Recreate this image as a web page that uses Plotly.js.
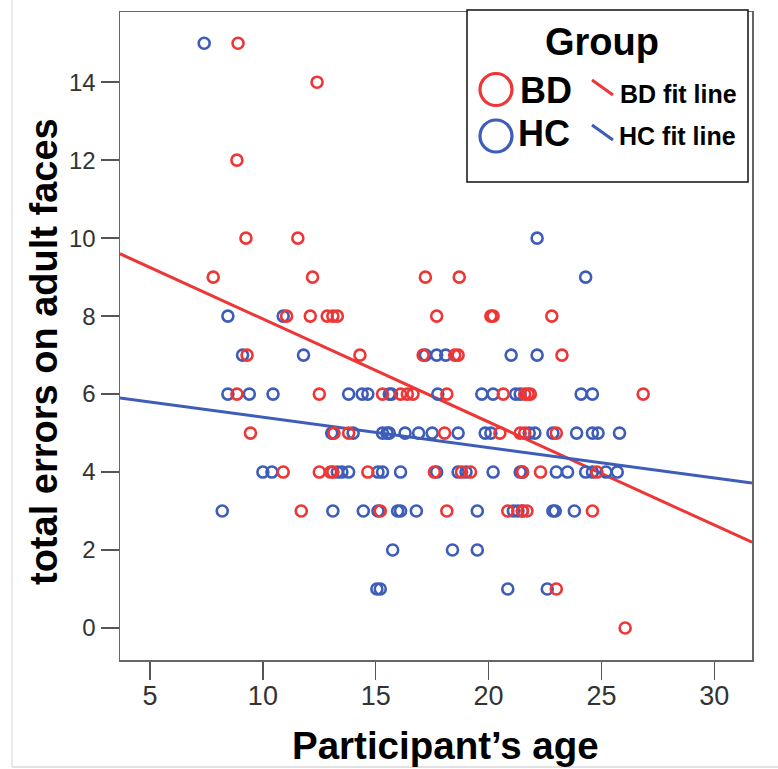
<!DOCTYPE html>
<html><head><meta charset="utf-8">
<script src="https://cdn.plot.ly/plotly-3.0.1.min.js"></script>
<style>body{margin:0;background:#fff}#chart{width:778px;height:769px}</style>
</head><body><div id="chart"></div>
<script>
// BD group (red)
const bdAge = [8.9, 12.4, 8.85, 9.25, 11.55, 7.8, 12.2, 17.2, 18.7,
  11.05, 12.1, 12.85, 13.1, 13.3, 17.7, 20.1, 20.2, 22.8,
  9.3, 14.3, 17.1, 18.5, 18.65, 23.25,
  8.85, 12.5, 15.3, 16.1, 16.4, 16.65, 18.15, 20.65, 21.6, 21.75, 21.85, 26.85,
  9.45, 13.15, 13.8, 18.05, 20.5, 21.6, 21.4, 23.0,
  10.9, 12.5, 13.1, 13.0, 14.65, 17.6, 18.8, 19.2, 21.5, 22.3, 24.8,
  11.7, 15.2, 18.15, 20.85, 21.5, 21.7, 24.6,
  23.0, 26.05];
const bdErr = [15, 14, 12, 10, 10, 9, 9, 9, 9,
  8, 8, 8, 8, 8, 8, 8, 8, 8,
  7, 7, 7, 7, 7, 7,
  6, 6, 6, 6, 6, 6, 6, 6, 6, 6, 6, 6,
  5, 5, 5, 5, 5, 5, 5, 5,
  4, 4, 4, 4, 4, 4, 4, 4, 4, 4, 4,
  3, 3, 3, 3, 3, 3, 3,
  1, 0];
// HC group (blue)
const hcAge = [7.4, 22.15, 24.3, 8.45, 10.9,
  9.1, 11.8, 17.2, 17.7, 18.1, 21.0, 22.15,
  8.45, 9.4, 10.45, 13.8, 14.4, 14.65, 15.6, 15.7, 17.75, 19.7, 20.2, 21.2, 21.4, 24.1, 24.6,
  13.05, 13.1, 14.0, 15.3, 15.5, 15.6, 16.3, 16.9, 17.5, 18.65, 19.85, 20.1, 21.8, 22.05, 22.85, 23.9, 24.6, 24.85, 25.8,
  10.0, 10.4, 13.3, 13.5, 13.8, 15.1, 15.3, 16.1, 17.7, 18.65, 19.0, 20.2, 21.4, 21.5, 23.0, 23.5, 24.3, 24.6, 25.2, 25.7,
  8.2, 13.1, 14.45, 15.1, 15.97, 16.1, 16.8, 19.5, 21.1, 21.3, 21.5, 22.85, 22.95, 23.8,
  15.75, 18.4, 19.5,
  15.05, 15.2, 20.85, 22.6];
const hcErr = [15, 10, 9, 8, 8,
  7, 7, 7, 7, 7, 7, 7,
  6, 6, 6, 6, 6, 6, 6, 6, 6, 6, 6, 6, 6, 6, 6,
  5, 5, 5, 5, 5, 5, 5, 5, 5, 5, 5, 5, 5, 5, 5, 5, 5, 5, 5,
  4, 4, 4, 4, 4, 4, 4, 4, 4, 4, 4, 4, 4, 4, 4, 4, 4, 4, 4, 4,
  3, 3, 3, 3, 3, 3, 3, 3, 3, 3, 3, 3, 3, 3,
  2, 2, 2,
  1, 1, 1, 1];
// Fit lines (endpoints)
const fitX = [3.67, 31.67];
const bdFitY = [9.6, 2.2];
const hcFitY = [5.9, 3.72];
const xTicks = [5, 10, 15, 20, 25, 30];
const yTicks = [0, 2, 4, 6, 8, 10, 12, 14];

const RED = '#ee3636', BLUE = '#3d5db8';
const mk = c => ({symbol: 'circle-open', size: 11, color: c, line: {width: 2.6, color: c}});
const traces = [
  {x: fitX, y: bdFitY, mode: 'lines', line: {color: RED, width: 3}, showlegend: false, hoverinfo: 'skip'},
  {x: fitX, y: hcFitY, mode: 'lines', line: {color: BLUE, width: 3}, showlegend: false, hoverinfo: 'skip'},
  {x: hcAge, y: hcErr, mode: 'markers', marker: mk(BLUE), showlegend: false},
  {x: bdAge, y: bdErr, mode: 'markers', marker: mk(RED), showlegend: false}
];
const L = 120, R = 752, T = 12, B = 660, W = R - L, H = B - T;
const px = v => (v - L) / W, py = v => (B - v) / H;
const F = 'Liberation Sans, Arial, sans-serif';
const shapes = [
  {type: 'line', xref: 'paper', yref: 'paper', x0: px(12), x1: px(12), y0: py(0), y1: py(767), line: {color: '#e2e2e2', width: 1.5}},
  {type: 'line', xref: 'paper', yref: 'paper', x0: px(12), x1: px(778), y0: py(767), y1: py(767), line: {color: '#d8d8d8', width: 1.5}},
  {type: 'rect', xref: 'paper', yref: 'paper', x0: px(467), x1: px(748), y0: py(182), y1: py(10), line: {color: '#111', width: 1.5}, fillcolor: '#fff', layer: 'above'},
  {type: 'circle', xref: 'paper', yref: 'paper', x0: px(480), x1: px(512), y0: py(105.5), y1: py(73.5), line: {color: RED, width: 3.2}, layer: 'above'},
  {type: 'circle', xref: 'paper', yref: 'paper', x0: px(480), x1: px(512), y0: py(152), y1: py(120), line: {color: BLUE, width: 3.2}, layer: 'above'},
  {type: 'line', xref: 'paper', yref: 'paper', x0: px(592), x1: px(613), y0: py(80), y1: py(95), line: {color: RED, width: 3}, layer: 'above'},
  {type: 'line', xref: 'paper', yref: 'paper', x0: px(592), x1: px(613), y0: py(125), y1: py(140), line: {color: BLUE, width: 3}, layer: 'above'}
];
const ann = (t, x, y, s, xa) => ({text: '<b>' + t + '</b>', xref: 'paper', yref: 'paper', x: px(x), y: py(y), xanchor: xa || 'left', yanchor: 'middle', showarrow: false, font: {family: F, size: s, color: '#000'}});
const annotations = [
  ann('Group', 602, 42, 38, 'center'),
  ann('BD', 518, 91, 36),
  ann('HC', 516, 134, 36),
  ann('BD fit line', 618, 94, 25),
  ann('HC fit line', 617, 136, 25),
  ann('Participant’s age', 445, 745, 38.5, 'center'),
  Object.assign(ann('total errors on adult faces', 44, 352, 38, 'center'), {textangle: -90})
];
const layout = {
  width: 778, height: 769,
  margin: {l: L, r: 778 - R, t: T, b: 769 - B},
  paper_bgcolor: '#fff', plot_bgcolor: '#fff',
  font: {family: F, color: '#333'},
  xaxis: {range: [3.67, 31.67], tickvals: xTicks, ticks: 'outside', ticklen: 18, tickwidth: 1.5, tickcolor: '#555',
    ticklabelstandoff: -7,
    showgrid: false, zeroline: false, showline: true, mirror: true, linecolor: '#666', linewidth: 1.5,
    tickfont: {size: 27, family: F, color: '#333'}},
  yaxis: {range: [-0.82, 15.8], tickvals: yTicks, ticks: 'outside', ticklen: 18, tickwidth: 1.5, tickcolor: '#555',
    showgrid: false, zeroline: false, showline: true, mirror: true, linecolor: '#666', linewidth: 1.5,
    tickfont: {size: 24, family: F, color: '#333'}},
  shapes: shapes, annotations: annotations
};
Plotly.newPlot('chart', traces, layout, {displayModeBar: false, staticPlot: true});
</script></body></html>
